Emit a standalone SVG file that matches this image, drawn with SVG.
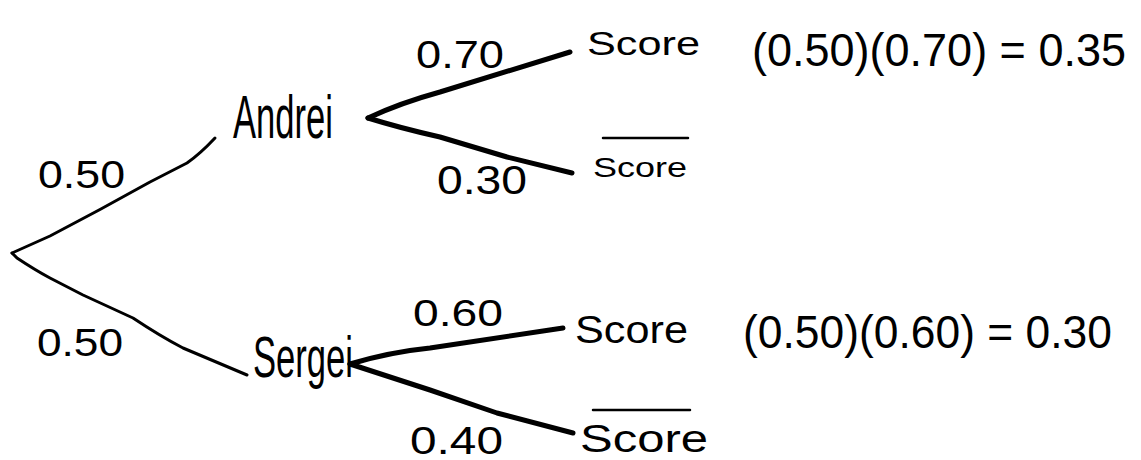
<svg xmlns="http://www.w3.org/2000/svg" width="1141" height="460" viewBox="0 0 1141 460">
<style>
  .t { font-family: "Liberation Sans", Arial, sans-serif; fill: #000; }
  .e { fill: none; stroke: #000; stroke-linecap: round; stroke-linejoin: round; }
  .thin { stroke-width: 3; }
  .thick { stroke-width: 5; }
  .bar { stroke: #000; stroke-width: 2.5; stroke-linecap: round; }
</style>
<rect x="0" y="0" width="1141" height="460" fill="#fff"/>

<g id="connectors">
  <path class="e thin" d="M215,138 Q200,154 187,163 L150,182 Q100,210 50,236 L12,253"/>
  <path class="e thin" d="M12,253 L17,258 Q35,270 50,278 L83,295 L133,318 Q160,336 183,348 L247,375"/>
  <path class="e thick" d="M368,118 Q400,103 440,92 L570,52"/>
  <path class="e thick" d="M368,118 Q400,128 440,137 L507,157 L572,173"/>
  <path class="e thick" d="M350,364 Q390,352 430,348 L563,328"/>
  <path class="e thick" d="M350,364 L430,390 L497,413 L573,433"/>
  <g id="edge-labels">
    <text class="t" x="38" y="188" font-size="38" textLength="87" lengthAdjust="spacingAndGlyphs">0.50</text>
    <text class="t" x="37" y="356" font-size="38" textLength="86" lengthAdjust="spacingAndGlyphs">0.50</text>
    <text class="t" x="416" y="68" font-size="38" textLength="88" lengthAdjust="spacingAndGlyphs">0.70</text>
    <text class="t" x="437" y="194" font-size="40" textLength="90" lengthAdjust="spacingAndGlyphs">0.30</text>
    <text class="t" x="413" y="326" font-size="36" textLength="90" lengthAdjust="spacingAndGlyphs">0.60</text>
    <text class="t" x="410" y="454" font-size="38" textLength="93" lengthAdjust="spacingAndGlyphs">0.40</text>
  </g>
</g>

<g id="node-andrei">
  <text class="t" x="233" y="138" font-size="62" textLength="100" lengthAdjust="spacingAndGlyphs">Andrei</text>
</g>
<g id="node-sergei">
  <text class="t" x="253" y="377" font-size="58" textLength="100" lengthAdjust="spacingAndGlyphs">Sergei</text>
</g>

<g id="node-a-score">
  <text class="t" x="587" y="55" font-size="34" textLength="113" lengthAdjust="spacingAndGlyphs">Score</text>
</g>
<g id="node-a-notscore">
  <line class="bar" x1="603" y1="138" x2="688" y2="138"/>
  <text class="t" x="593" y="177" font-size="28" textLength="94" lengthAdjust="spacingAndGlyphs">Score</text>
</g>
<g id="node-s-score">
  <text class="t" x="575" y="343" font-size="38" textLength="113" lengthAdjust="spacingAndGlyphs">Score</text>
</g>
<g id="node-s-notscore">
  <line class="bar" x1="593" y1="410" x2="690" y2="410"/>
  <text class="t" x="580" y="452" font-size="38" textLength="128" lengthAdjust="spacingAndGlyphs">Score</text>
</g>

<g id="calc-andrei">
  <text class="t" x="752" y="66" font-size="46" textLength="374" lengthAdjust="spacingAndGlyphs">(0.50)(0.70) = 0.35</text>
</g>
<g id="calc-sergei">
  <text class="t" x="743" y="348" font-size="46" textLength="369" lengthAdjust="spacingAndGlyphs">(0.50)(0.60) = 0.30</text>
</g>
</svg>
